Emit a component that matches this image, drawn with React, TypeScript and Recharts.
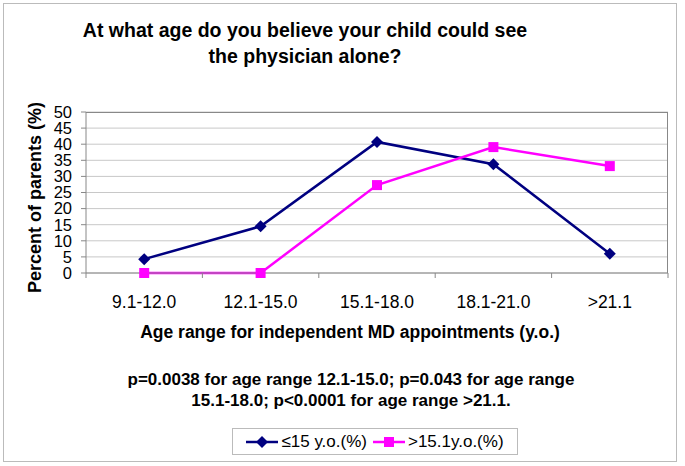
import { CartesianGrid, Legend, Line, LineChart, XAxis, YAxis } from 'recharts';

const categories = ['9.1-12.0', '12.1-15.0', '15.1-18.0', '18.1-21.0', '>21.1'];
const youngerParents = [4.3, 14.5, 40.7, 33.8, 6.0];
const olderParents = [0, 0, 27.3, 39.1, 33.2];
const yTicks = [0, 5, 10, 15, 20, 25, 30, 35, 40, 45, 50];

const data = categories.map((cat, i) => ({
  cat,
  young: youngerParents[i],
  old: olderParents[i],
}));

const FONT = '"Liberation Sans", Arial, sans-serif';
const NAVY = '#000080';
const PINK = '#ff00ff';
const PLOT_LEFT = 86;
const PLOT_TOP = 112;
const PLOT_RIGHT = 668;
const PLOT_BOTTOM = 273;
const BAND = (PLOT_RIGHT - PLOT_LEFT) / categories.length;

const Diamond = (props: any) => {
  const { cx, cy, fill } = props;
  if (cx == null || cy == null) return null;
  const r = 6;
  return <path d={`M${cx},${cy - r}L${cx + r},${cy}L${cx},${cy + r}L${cx - r},${cy}Z`} fill={fill} />;
};

const Square = (props: any) => {
  const { cx, cy, fill } = props;
  if (cx == null || cy == null) return null;
  const s = 10;
  return <rect x={cx - s / 2} y={cy - s / 2} width={s} height={s} fill={fill} />;
};

const CategoryTick = (props: any) => {
  const { x, payload, index } = props;
  const half = BAND / 2;
  return (
    <g>
      <line x1={x - half} x2={x - half} y1={PLOT_BOTTOM} y2={PLOT_BOTTOM + 5} stroke="#888" />
      {index === categories.length - 1 && (
        <line x1={x + half} x2={x + half} y1={PLOT_BOTTOM} y2={PLOT_BOTTOM + 5} stroke="#888" />
      )}
      <text x={x} y={PLOT_BOTTOM + 35} textAnchor="middle" fontSize={17.5} fontFamily={FONT} fill="#000">
        {payload.value}
      </text>
    </g>
  );
};

const LegendBox = () => (
  <div
    style={{
      border: '1px solid #bbb',
      height: 27,
      display: 'flex',
      alignItems: 'center',
      justifyContent: 'center',
      fontFamily: FONT,
      fontSize: 17,
      color: '#000',
      boxSizing: 'border-box',
    }}
  >
    <svg width={32} height={12}>
      <line x1={0} x2={32} y1={6} y2={6} stroke={NAVY} strokeWidth={2.5} />
      <Diamond cx={16} cy={6} fill={NAVY} />
    </svg>
    <span style={{ marginLeft: 3, marginRight: 6 }}>≤15 y.o.(%)</span>
    <svg width={32} height={12}>
      <line x1={0} x2={32} y1={6} y2={6} stroke={PINK} strokeWidth={2.5} />
      <Square cx={16} cy={6} fill={PINK} />
    </svg>
    <span style={{ marginLeft: 3 }}>&gt;15.1y.o.(%)</span>
  </div>
);

export default function App() {
  return (
    <div style={{ position: 'absolute', left: 0, top: 0, width: 685, height: 466, background: '#fff' }}>
      <div
        style={{
          position: 'absolute',
          left: 3,
          top: 3,
          width: 674,
          height: 459,
          border: '1px solid #bbb',
          boxSizing: 'border-box',
        }}
      />
      <div
        style={{
          position: 'absolute',
          left: 0,
          top: 17,
          width: 610,
          textAlign: 'center',
          fontFamily: FONT,
          fontWeight: 'bold',
          fontSize: 19.5,
          lineHeight: '26px',
        }}
      >
        At what age do you believe your child could see
        <br />
        the physician alone?
      </div>
      <LineChart
        width={685}
        height={466}
        data={data}
        margin={{ top: PLOT_TOP, left: PLOT_LEFT - 40, right: 685 - PLOT_RIGHT, bottom: 466 - PLOT_BOTTOM - 30 }}
      >
        <CartesianGrid vertical={false} stroke="#c8c8c8" />
        <XAxis
          dataKey="cat"
          height={30}
          padding={{ left: BAND / 2, right: BAND / 2 }}
          axisLine={{ stroke: '#888' }}
          tickLine={false}
          tick={<CategoryTick />}
          interval={0}
        />
        <YAxis
          width={40}
          domain={[0, 50]}
          ticks={yTicks}
          interval={0}
          axisLine={{ stroke: '#888' }}
          tickLine={{ stroke: '#888' }}
          tickSize={5}
          tickMargin={9}
          tick={{ fontSize: 16.5, fontFamily: FONT, fill: '#000' }}
        />
        <Legend
          layout="horizontal"
          verticalAlign="middle"
          align="center"
          wrapperStyle={{ position: 'absolute', left: 232, top: 428, width: 286, height: 27 }}
          content={<LegendBox />}
        />
        <Line
          dataKey="young"
          name="≤15 y.o.(%)"
          stroke={NAVY}
          strokeWidth={2.5}
          dot={<Diamond fill={NAVY} />}
          activeDot={false}
          isAnimationActive={false}
        />
        <Line
          dataKey="old"
          name=">15.1y.o.(%)"
          stroke={PINK}
          strokeWidth={2.5}
          dot={<Square fill={PINK} />}
          activeDot={false}
          isAnimationActive={false}
        />
      </LineChart>
      <div
        style={{
          position: 'absolute',
          left: PLOT_LEFT,
          top: PLOT_TOP,
          width: PLOT_RIGHT - PLOT_LEFT,
          height: PLOT_BOTTOM - PLOT_TOP,
          borderTop: '1px solid #888',
          borderRight: '1px solid #888',
          boxSizing: 'border-box',
          pointerEvents: 'none',
        }}
      />
      <div
        style={{
          position: 'absolute',
          left: 0,
          top: 2,
          width: 36,
          height: 390,
          display: 'flex',
          alignItems: 'center',
          justifyContent: 'center',
        }}
      >
        <div
          style={{
            transform: 'rotate(-90deg)',
            whiteSpace: 'nowrap',
            fontFamily: FONT,
            fontWeight: 'bold',
            fontSize: 18,
            marginLeft: 36,
          }}
        >
          Percent of parents (%)
        </div>
      </div>
      <div
        style={{
          position: 'absolute',
          left: 0,
          top: 322,
          width: 700,
          textAlign: 'center',
          fontFamily: FONT,
          fontWeight: 'bold',
          fontSize: 17.5,
        }}
      >
        Age range for independent MD appointments (y.o.)
      </div>
      <div
        style={{
          position: 'absolute',
          left: 0,
          top: 369,
          width: 702,
          textAlign: 'center',
          fontFamily: FONT,
          fontWeight: 'bold',
          fontSize: 17,
          lineHeight: '21px',
        }}
      >
        p=0.0038 for age range 12.1-15.0; p=0.043 for age range
        <br />
        15.1-18.0; p&lt;0.0001 for age range &gt;21.1.
      </div>
    </div>
  );
}
